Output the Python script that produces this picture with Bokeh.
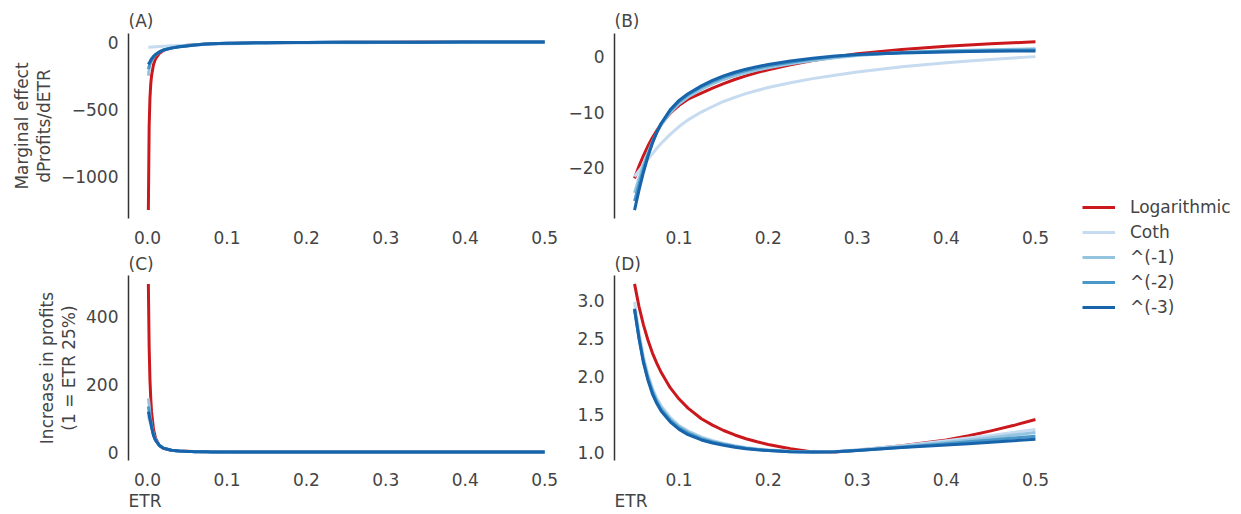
from bokeh.plotting import figure
from bokeh.layouts import gridplot, row
from bokeh.models import (Range1d, FixedTicker, PrintfTickFormatter, CustomJSTickFormatter,
                          Legend, LegendItem, Title, ColumnDataSource)
from bokeh.embed import file_html
from bokeh.resources import INLINE

# ---------------- data ----------------
etr = [0.001, 0.002, 0.003, 0.004, 0.005, 0.0075, 0.01, 0.015, 0.02, 0.03, 0.04,
       0.05, 0.055, 0.06, 0.065, 0.07, 0.075, 0.08, 0.09, 0.1, 0.11,
       0.125, 0.1375, 0.15, 0.1625, 0.175, 0.1875,
       0.2, 0.225, 0.25, 0.275, 0.3,
       0.35, 0.4, 0.425, 0.45, 0.475, 0.5]

series_names = ["Logarithmic", "Coth", "^(-1)", "^(-2)", "^(-3)"]

# marginal effect dProfits/dETR
marg_log = [-1250, -625, -417, -312, -250, -166, -124, -82, -61, -40, -29,
            -21.9, -19.7, -17.8, -16.1, -14.6, -13.3, -12.1, -10.2, -8.8, -7.7,
            -6.6, -5.7, -4.9, -4.15, -3.5, -2.92,
            -2.4, -1.5, -0.75, -0.1, 0.45,
            1.25, 1.8, 2.03, 2.25, 2.43, 2.6]
marg_coth = [-38, -37.5, -37, -36.5, -36, -35, -34, -32, -30, -27, -24,
             -21.6, -20.5, -19.5, -18.5, -17.5, -16.5, -15.6, -14.0, -12.6, -11.4,
             -10.0, -9.0, -8.1, -7.35, -6.7, -6.12,
             -5.6, -4.75, -4.0, -3.4, -2.8,
             -1.85, -1.15, -0.84, -0.55, -0.29, -0.05]
marg_p1 = [-250, -200, -170, -152, -140, -112, -95, -72, -57, -42, -32,
           -24.5, -21.9, -19.5, -17.3, -15.4, -13.7, -12.3, -10.1, -8.5, -7.3,
           -5.9, -4.95, -4.15, -3.5, -2.95, -2.47,
           -2.05, -1.35, -0.75, -0.25, 0.15,
           0.68, 1.0, 1.11, 1.2, 1.28, 1.35]
marg_p2 = [-200, -178, -158, -143, -132, -108, -93, -72, -58, -43, -33,
           -26.0, -23.0, -20.2, -17.7, -15.5, -13.6, -12.1, -9.8, -8.1, -6.9,
           -5.5, -4.55, -3.75, -3.1, -2.55, -2.1,
           -1.7, -1.05, -0.5, -0.05, 0.3,
           0.68, 0.9, 0.98, 1.05, 1.1, 1.15]
marg_p3 = [-165, -155, -145, -133, -125, -105, -92, -72, -58, -44, -34,
           -27.6, -24.0, -20.8, -18.0, -15.6, -13.6, -12.0, -9.6, -7.9, -6.7,
           -5.3, -4.33, -3.5, -2.85, -2.3, -1.85,
           -1.45, -0.85, -0.35, 0.05, 0.35,
           0.62, 0.8, 0.85, 0.9, 0.94, 0.97]

# increase in profits (1 = ETR 25%)
incr_log = [496, 310, 215, 160, 120, 68, 42, 20, 12, 6.2, 4.3,
            3.22, 2.92, 2.68, 2.48, 2.31, 2.17, 2.05, 1.85, 1.70, 1.58,
            1.44, 1.356, 1.285, 1.226, 1.176, 1.136,
            1.10, 1.045, 1.0, 1.0, 1.025,
            1.085, 1.16, 1.215, 1.28, 1.35, 1.43]
incr_coth = [110, 95, 88, 82, 75, 51, 37, 21, 13, 6.8, 4.2,
             2.98, 2.58, 2.26, 2.03, 1.85, 1.71, 1.61, 1.46, 1.35, 1.28,
             1.20, 1.153, 1.115, 1.085, 1.06, 1.043,
             1.03, 1.01, 1.0, 1.008, 1.03,
             1.085, 1.15, 1.185, 1.22, 1.26, 1.30]
incr_p1 = [159, 140, 112, 95, 80, 52, 37, 20.5, 12.8, 6.7, 4.1,
           2.90, 2.53, 2.22, 2.00, 1.82, 1.69, 1.59, 1.44, 1.34, 1.27,
           1.19, 1.145, 1.11, 1.08, 1.055, 1.038,
           1.025, 1.008, 1.0, 1.005, 1.025,
           1.075, 1.13, 1.16, 1.19, 1.225, 1.26]
incr_p2 = [135, 120, 104, 92, 78, 51, 36.5, 20.2, 12.6, 6.6, 4.0,
           2.88, 2.51, 2.20, 1.97, 1.80, 1.66, 1.56, 1.42, 1.32, 1.25,
           1.175, 1.135, 1.10, 1.073, 1.05, 1.033,
           1.02, 1.005, 1.0, 1.005, 1.02,
           1.065, 1.11, 1.135, 1.16, 1.185, 1.21]
incr_p3 = [120, 110, 98, 88, 75, 50, 36, 20, 12.5, 6.5, 4.0,
           2.89, 2.50, 2.18, 1.95, 1.77, 1.64, 1.54, 1.40, 1.30, 1.23,
           1.16, 1.12, 1.09, 1.065, 1.045, 1.03,
           1.02, 1.005, 1.0, 1.005, 1.02,
           1.06, 1.095, 1.11, 1.13, 1.15, 1.17]

x_ticks_full = [0.0, 0.1, 0.2, 0.3, 0.4, 0.5]
x_ticks_zoom = [0.1, 0.2, 0.3, 0.4, 0.5]
yticks_a = [-1000, -500, 0]
yticks_b = [-20, -10, 0]
yticks_c = [0, 200, 400]
yticks_d = [1.0, 1.5, 2.0, 2.5, 3.0]
zoom_start = 0.05

# ---------------- styling ----------------
colors = ["#cb181d", "#c6dbef", "#94c4df", "#4a98c9", "#1764ab"]
FONT = "DejaVu Sans"
TXT = "#444444"
FS = "17px"
LW = 3

minus_fmt = CustomJSTickFormatter(code="return tick < 0 ? '\u2212' + Math.abs(tick) : String(tick);")


def make_fig(title, xr, yr, left, top, bottom, fw, fh, xticks, yticks, yfmt,
             title_standoff, ylabel=None, xlabel=None):
    p = figure(frame_width=fw, frame_height=fh, output_backend="svg", toolbar_location=None,
               x_range=Range1d(*xr), y_range=Range1d(*yr),
               min_border_left=left, min_border_right=0, min_border_top=top, min_border_bottom=bottom)
    p.title.text = title
    p.title.align = "left"
    p.title.text_font = FONT
    p.title.text_font_size = FS
    p.title.text_font_style = "normal"
    p.title.text_color = TXT
    p.title.standoff = title_standoff
    p.outline_line_color = None
    p.xgrid.grid_line_color = None
    p.ygrid.grid_line_color = None
    p.background_fill_color = "white"
    p.border_fill_color = "white"

    xa = p.xaxis[0]
    xa.ticker = FixedTicker(ticks=xticks)
    xa.formatter = PrintfTickFormatter(format="%.1f")
    xa.axis_line_color = None
    xa.major_tick_line_color = None
    xa.minor_tick_line_color = None
    xa.major_tick_out = 0
    xa.major_tick_in = 0
    xa.minor_tick_out = 0
    xa.minor_tick_in = 0
    xa.major_label_standoff = 12
    xa.major_label_text_font = FONT
    xa.major_label_text_font_size = FS
    xa.major_label_text_color = TXT

    ya = p.yaxis[0]
    ya.ticker = FixedTicker(ticks=yticks)
    ya.formatter = yfmt
    ya.axis_line_color = "#333333"
    ya.axis_line_width = 1.5
    ya.major_tick_line_color = None
    ya.minor_tick_line_color = None
    ya.major_tick_out = 0
    ya.major_tick_in = 0
    ya.minor_tick_out = 0
    ya.minor_tick_in = 0
    ya.major_label_standoff = 10
    ya.major_label_text_font = FONT
    ya.major_label_text_font_size = FS
    ya.major_label_text_color = TXT
    if ylabel:
        ya.axis_label = ylabel
        ya.axis_label_text_font = FONT
        ya.axis_label_text_font_size = FS
        ya.axis_label_text_font_style = "normal"
        ya.axis_label_text_color = TXT
        ya.axis_label_text_line_height = 1.1
        ya.axis_label_standoff = 4
    if xlabel:
        t = Title(text=xlabel, align="left", text_font=FONT, text_font_size=FS,
                  text_font_style="normal", text_color=TXT, standoff=0)
        p.add_layout(t, "below")
    return p


def draw(p, xs, ys_list, start):
    for ys, c in zip(ys_list, colors):
        xx = [x for x in xs if x >= start]
        yy = [y for x, y in zip(xs, ys) if x >= start]
        p.line(xx, yy, line_color=c, line_width=LW, line_join="round")


marg = [marg_log, marg_coth, marg_p1, marg_p2, marg_p3]
incr = [incr_log, incr_coth, incr_p1, incr_p2, incr_p3]

pa = make_fig("(A)", (-0.024, 0.525), (-1313, 65), 128, 33, 32, 436, 185,
              x_ticks_full, yticks_a, minus_fmt, 6, ylabel="Marginal effect\ndProfits/dETR")
draw(pa, etr, marg, 0.0)

pb = make_fig("(B)", (0.0275, 0.5225), (-29.1, 4.1), 50, 33, 32, 441, 185,
              x_ticks_zoom, yticks_b, minus_fmt, 6)
draw(pb, etr, marg, zoom_start)

pc = make_fig("(C)", (-0.024, 0.525), (-23.75, 520.75), 128, 25, 50, 436, 185,
              x_ticks_full, yticks_c, PrintfTickFormatter(format="%d"), 3,
              ylabel="Increase in profits\n(1 = ETR 25%)", xlabel="ETR")
draw(pc, etr, incr, 0.0)

pd = make_fig("(D)", (0.0275, 0.5225), (0.889, 3.331), 50, 25, 50, 441, 185,
              x_ticks_zoom, yticks_d, PrintfTickFormatter(format="%.1f"), 3, xlabel="ETR")
draw(pd, etr, incr, zoom_start)

# legend panel
pl = figure(frame_width=178, frame_height=506, output_backend="svg", toolbar_location=None,
            x_range=Range1d(0, 1), y_range=Range1d(0, 1), min_border=0)
pl.axis.visible = False
pl.xgrid.grid_line_color = None
pl.ygrid.grid_line_color = None
pl.outline_line_color = None
items = []
for name, c in zip(series_names, colors):
    r = pl.line(x="x", y="y", source=ColumnDataSource(data=dict(x=[-10, -9], y=[-10, -10])),
                line_color=c, line_width=LW)
    items.append(LegendItem(label=name, renderers=[r]))
leg = Legend(items=items, location=(27, 189), glyph_width=33, glyph_height=20, label_height=20,
             spacing=5, label_standoff=15, padding=0, margin=0, border_line_color=None,
             background_fill_alpha=0, label_text_font=FONT, label_text_font_size=FS,
             label_text_color=TXT)
pl.add_layout(leg)

grid = gridplot([[pa, pb], [pc, pd]], toolbar_location=None)
layout = row(grid, pl)

open("out.html", "w").write(file_html(layout, INLINE))
